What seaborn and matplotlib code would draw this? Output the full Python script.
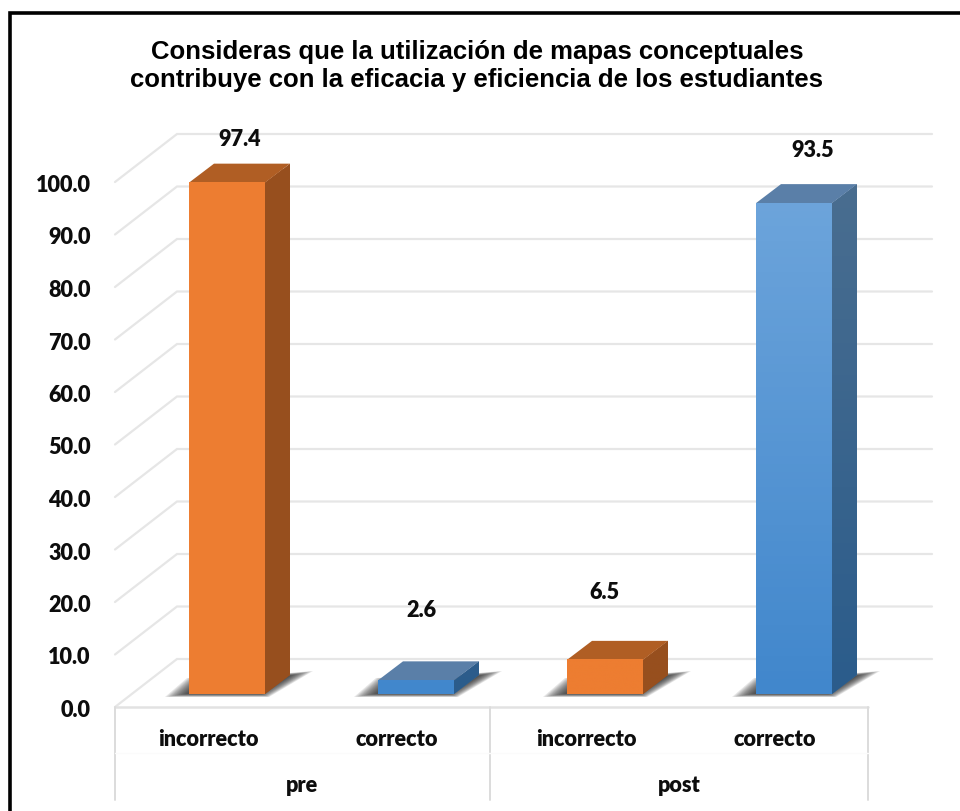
import numpy as np
import pandas as pd
import matplotlib
matplotlib.use("Agg")
import matplotlib.pyplot as plt
from matplotlib.lines import Line2D
from matplotlib.patches import Polygon
from matplotlib.transforms import ScaledTranslation
from matplotlib.colors import to_rgb
import seaborn as sns

title = "Consideras que la utilización de mapas conceptuales\ncontribuye con la eficacia y eficiencia de los estudiantes"
phases = ["pre", "pre", "post", "post"]
answers = ["incorrecto", "correcto", "incorrecto", "correcto"]
values = [97.4, 2.6, 6.5, 93.5]
y_ticks = [0, 10, 20, 30, 40, 50, 60, 70, 80, 90, 100]

# layout of the pseudo-3D drawing, in pixels
W, H = 960, 811
BAR0_PX, BAR_STEP_PX = 227.0, 189.0
BASE_PX, UNIT_PX = 694.0, 5.25
LEFT_PX, RIGHT_PX, WALL_L_PX, WALL_R_PX = 115.0, 868.0, 177.0, 932.0
FRONT_DROP, WALL_RISE = 13.0, 35.0
DEPTH_X, DEPTH_Y = 25.0, 19.0
LABEL_OFFSETS = [(13, 43), (5, 70), (-1, 67), (19, 53)]
sx = 1 / BAR_STEP_PX
sy = 1 / UNIT_PX

sns.set_theme(style="white")
plt.rcParams["font.family"] = ["Lato", "DejaVu Sans"]
LABEL_FONT = dict(fontsize=15.6, fontweight=800, color="#0d0d0d")

df = pd.DataFrame({"key": [f"{p}|{a}|{i}" for i, (p, a) in enumerate(zip(phases, answers))],
                   "answer": answers, "value": values})

fig = plt.figure(figsize=(W / 100, H / 100), dpi=100, facecolor="white")
ax = fig.add_axes([LEFT_PX / W, 1 - BASE_PX / H, (RIGHT_PX - LEFT_PX) / W, 100 * UNIT_PX / H])
ax.patch.set_alpha(0)

sns.barplot(data=df, x="key", y="value", hue="answer", dodge=False, width=76 / BAR_STEP_PX,
            palette={"incorrecto": "#ed7d31", "correcto": "#4a8fd3"}, legend=False,
            linewidth=0, saturation=1, ax=ax, zorder=4, order=list(df["key"]))

xmin = (LEFT_PX - BAR0_PX) * sx
xmax = (RIGHT_PX - BAR0_PX) * sx
ax.set_xlim(xmin, xmax)
ax.set_ylim(0, 100)
sns.despine(ax=ax, left=True, bottom=True, right=True, top=True)
ax.grid(False)

# wall grid: diagonal on the side wall then horizontal on the back wall
wall_x0 = (WALL_L_PX - BAR0_PX) * sx
wall_x1 = (WALL_R_PX - BAR0_PX) * sx
GRID = "#e6e6e6"
for v in y_ticks:
    ax.plot([xmin, wall_x0, wall_x1],
            [v - FRONT_DROP * sy, v + WALL_RISE * sy, v + WALL_RISE * sy],
            color=GRID, lw=1.6, zorder=1, clip_on=False, solid_joinstyle="miter")

# floor front edge and category dividers
yf = -FRONT_DROP * sy
ybot = (BASE_PX - 800) * sy
ax.plot([xmin, xmax], [yf, yf], color="#e2e2e2", lw=1.8, clip_on=False, zorder=1)
for xd in [xmin, (490 - BAR0_PX) * sx, xmax]:
    ax.plot([xd, xd], [yf, ybot], color="#dcdcdc", lw=1.4, clip_on=False, zorder=1)
ax.plot([xmin, xmax], [(BASE_PX - 753) * sy] * 2, color="#fbfbfb", lw=1, clip_on=False, zorder=1)

def shade(c0, c1, v):
    a, b = np.array(to_rgb(c0)), np.array(to_rgb(c1))
    return tuple(a + (b - a) * (v / 100))

STYLE = {
    "incorrecto": dict(front=("#ed7d31", "#ed7d31"), side=("#974f1e", "#974f1e"), top="#b05e24"),
    "correcto": dict(front=("#4187cc", "#6fa6dc"), side=("#2b5c8b", "#4a6e90"), top="#5a7fa8"),
}

bars = sorted([p for p in ax.patches if p.get_height() > 0], key=lambda p: p.get_x())
for bar, v, a, off in zip(bars, values, answers, LABEL_OFFSETS):
    st = STYLE[a]
    x0, x1 = bar.get_x(), bar.get_x() + bar.get_width()
    dx, dy = DEPTH_X * sx, DEPTH_Y * sy

    # soft floor shadow
    base = np.array([(-24, -3), (-2, 16), (100, 21), (124, 23), (80, -3)], float)
    c = np.array([50.0, 8.0])
    for k in np.linspace(1.0, 0.66, 14):
        pts = c + (base - c) * k
        ax.add_patch(Polygon(np.c_[x0 + pts[:, 0] * sx, pts[:, 1] * sy], closed=True, fc="#222222",
                             ec="none", alpha=0.11, zorder=2, clip_on=False))

    # right side face and top face of the block
    side = Polygon([(x1, 0), (x1 + dx, dy), (x1 + dx, v + dy), (x1, v)], closed=True,
                   fc=st["side"][1], ec="none", zorder=3, clip_on=False)
    ax.add_patch(side)
    n = 64
    grad = np.array([[shade(*st["side"], t)] for t in np.linspace(v + dy, 0, n)])
    im = ax.imshow(grad, extent=(x1, x1 + dx, 0, v + dy), aspect="auto", zorder=3.1, clip_on=True)
    im.set_clip_path(side)
    ax.add_patch(Polygon([(x0, v), (x0 + dx, v + dy), (x1 + dx, v + dy), (x1, v)], closed=True,
                         fc=st["top"], ec="none", zorder=3.2, clip_on=False))

    # vertical shading of the front face
    grad = np.array([[shade(*st["front"], t)] for t in np.linspace(v, 0, n)])
    ax.imshow(grad, extent=(x0, x1, 0, v), aspect="auto", zorder=4.1, clip_on=False)

    ax.annotate(f"{v:.1f}", xy=((x0 + x1) / 2, v), xytext=(off[0] * 0.72, off[1] * 0.72),
                textcoords="offset points", ha="center", va="center", zorder=6, **LABEL_FONT)

ax.set_xlim(xmin, xmax)
ax.set_ylim(0, 100)

# value axis labels sit on the front plane of the floor
ax.set_yticks(y_ticks)
ax.set_yticklabels([f"{t:.1f}" for t in y_ticks], **LABEL_FONT)
ax.set_ylabel("")
ax.set_xlabel("")
ax.tick_params(axis="y", length=0, pad=17.5)
ax.tick_params(axis="x", length=0, pad=25.5)
ax.set_xticks([i - 19 * sx for i in range(4)])
ax.set_xticklabels(answers, **LABEL_FONT)
shift = ScaledTranslation(0, -(FRONT_DROP + 1.5) / 100, fig.dpi_scale_trans)
for lab in ax.get_yticklabels():
    lab.set_transform(lab.get_transform() + shift)

# group labels under the categories
for name, xpx in zip(["pre", "post"], [302, 679]):
    ax.text((xpx - BAR0_PX) * sx, (BASE_PX - 785) * sy, name, ha="center", va="center",
            clip_on=False, **LABEL_FONT)

fig.text(477 / W, 1 - 66 / H, title, ha="center", va="center", fontsize=18.5, fontweight="bold",
         family="Liberation Sans", color="black", linespacing=1.16)

# frame of the pasted picture
fig.add_artist(Line2D([9.5 / W, 9.5 / W, 1], [0, 1 - 13 / H, 1 - 13 / H], color="black", lw=2.6,
                      solid_joinstyle="miter", solid_capstyle="butt"))

fig.savefig("out.png", dpi=100)
